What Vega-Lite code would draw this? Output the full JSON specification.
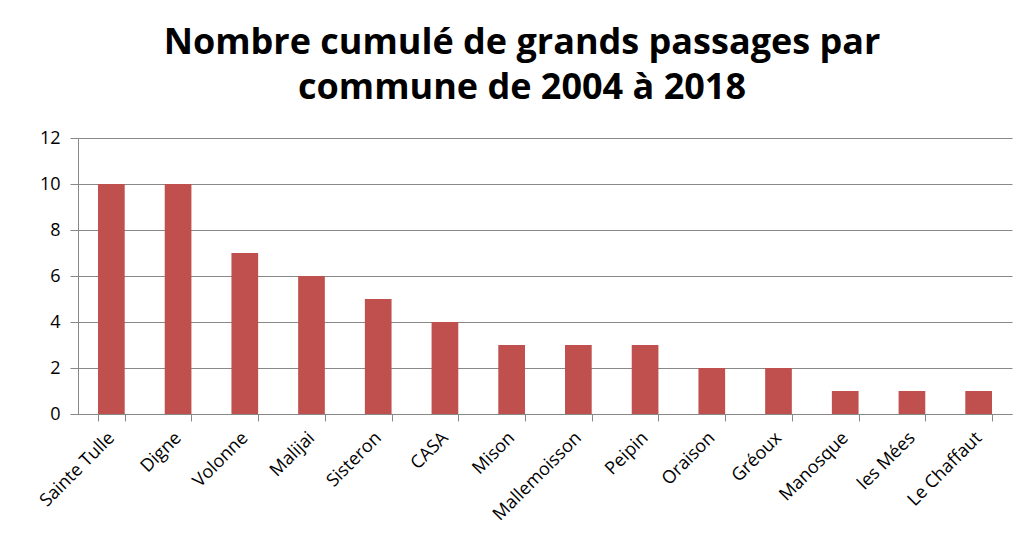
{
  "$schema": "https://vega.github.io/schema/vega-lite/v6.json",
  "width": 934,
  "height": 276,
  "autosize": {"type": "none"},
  "padding": {"left": 78, "top": 138, "right": 16, "bottom": 123},
  "background": "white",
  "title": {
    "text": ["Nombre  cumulé de grands passages par", "commune de 2004 à 2018"],
    "font": "Open Sans",
    "fontSize": 36,
    "fontWeight": "bold",
    "color": "black",
    "anchor": "middle",
    "dx": -23,
    "offset": 22,
    "lineHeight": 45
  },
  "data": {
    "values": [
      {"commune": "Sainte Tulle", "n": 10},
      {"commune": "Digne", "n": 10},
      {"commune": "Volonne", "n": 7},
      {"commune": "Malijai", "n": 6},
      {"commune": "Sisteron", "n": 5},
      {"commune": "CASA", "n": 4},
      {"commune": "Mison", "n": 3},
      {"commune": "Mallemoisson", "n": 3},
      {"commune": "Peipin", "n": 3},
      {"commune": "Oraison", "n": 2},
      {"commune": "Gréoux", "n": 2},
      {"commune": "Manosque", "n": 1},
      {"commune": "les Mées", "n": 1},
      {"commune": "Le Chaffaut", "n": 1}
    ]
  },
  "mark": {"type": "bar", "color": "#C0504D"},
  "encoding": {
    "x": {
      "field": "commune",
      "type": "nominal",
      "sort": null,
      "scale": {"paddingInner": 0.6, "paddingOuter": 0.3},
      "axis": {
        "title": null,
        "labelAngle": -45,
        "labelAlign": "right",
        "labelBaseline": "middle",
        "labelFont": "Open Sans",
        "labelFontSize": 18,
        "labelColor": "black",
        "labelPadding": 14,
        "domainColor": "#888888",
        "tickColor": "#888888",
        "tickSize": 7,
        "tickBand": "extent",
        "grid": false
      }
    },
    "y": {
      "field": "n",
      "type": "quantitative",
      "scale": {"domain": [0, 12]},
      "axis": {
        "title": null,
        "values": [0, 2, 4, 6, 8, 10, 12],
        "labelFont": "Open Sans",
        "labelFontSize": 18,
        "labelColor": "black",
        "labelPadding": 10,
        "domainColor": "#888888",
        "tickColor": "#888888",
        "tickSize": 8,
        "gridColor": "#888888",
        "gridWidth": 1
      }
    }
  },
  "config": {"view": {"stroke": null}}
}
